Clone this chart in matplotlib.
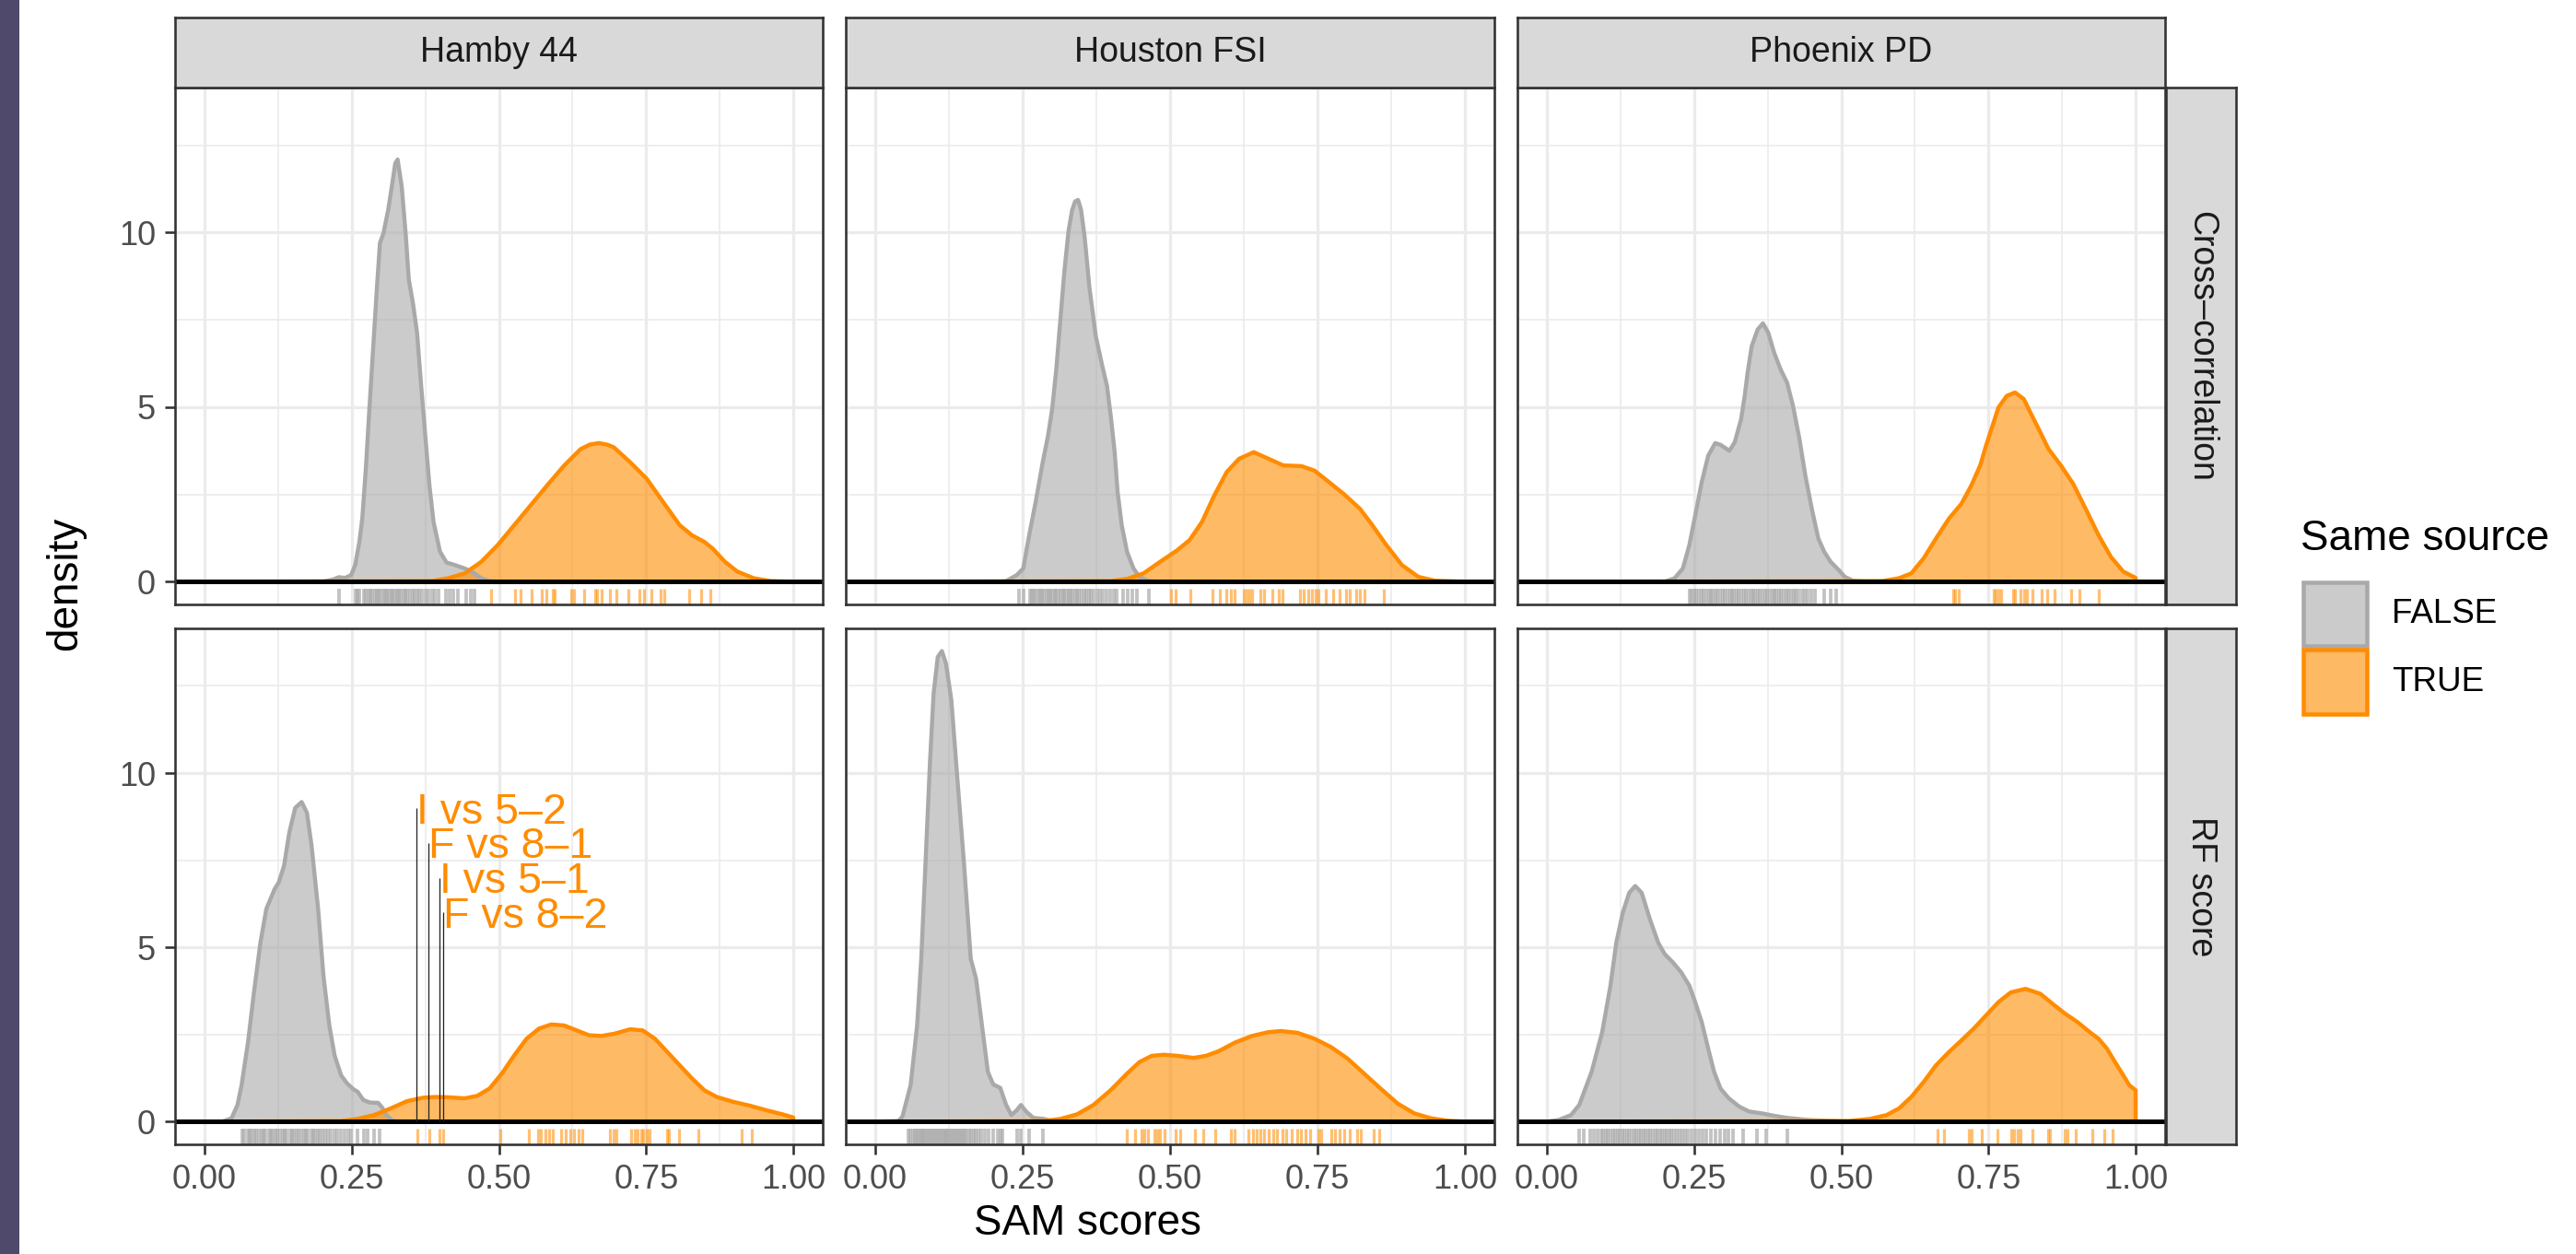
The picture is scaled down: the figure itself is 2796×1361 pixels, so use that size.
import matplotlib
matplotlib.use('Agg')
import matplotlib.pyplot as plt
from matplotlib.patches import Rectangle
import numpy as np

plt.rcParams['font.family'] = ['Liberation Sans', 'DejaVu Sans']

# ---------------- data ----------------
labs = ["Hamby 44", "Houston FSI", "Phoenix PD"]
scores = ["Cross\u2013correlation", "RF score"]
legend_labels = ["FALSE", "TRUE"]
x_ticks = [0.0, 0.25, 0.5, 0.75, 1.0]
x_tick_labels = ["0.00", "0.25", "0.50", "0.75", "1.00"]
y_ticks = [0, 5, 10]

# density curves: Hamby 44 / Cross-correlation
hamby_cc_false_x = [0.0, 0.200, 0.218, 0.228, 0.239, 0.249, 0.256, 0.263, 0.268, 0.274, 0.279, 0.286, 0.293, 0.298, 0.304, 0.312, 0.319, 0.324, 0.328, 0.335, 0.342, 0.347, 0.354, 0.361, 0.368, 0.375, 0.382, 0.389, 0.400, 0.411, 0.425, 0.442, 0.456, 0.470, 0.484, 0.500, 1.0]
hamby_cc_false_y = [0.0, 0.0, 0.06, 0.13, 0.11, 0.19, 0.48, 1.14, 1.81, 3.23, 4.66, 6.56, 8.46, 9.70, 9.98, 10.65, 11.41, 11.98, 12.09, 11.31, 9.89, 8.65, 7.98, 7.13, 5.61, 4.18, 2.76, 1.71, 0.86, 0.55, 0.48, 0.38, 0.27, 0.10, 0.02, 0.0, 0.0]
hamby_cc_true_x = [0.0, 0.386, 0.414, 0.442, 0.470, 0.498, 0.526, 0.554, 0.582, 0.611, 0.639, 0.655, 0.670, 0.685, 0.695, 0.723, 0.751, 0.779, 0.807, 0.828, 0.849, 0.863, 0.884, 0.905, 0.933, 0.961, 1.0]
hamby_cc_true_y = [0.0, 0.02, 0.10, 0.24, 0.57, 1.05, 1.62, 2.19, 2.76, 3.33, 3.80, 3.93, 3.97, 3.92, 3.85, 3.42, 2.95, 2.28, 1.62, 1.33, 1.14, 0.95, 0.57, 0.29, 0.10, 0.02, 0.0]

# Houston FSI / Cross-correlation
houston_cc_false_x = [0.0, 0.210, 0.222, 0.240, 0.251, 0.261, 0.272, 0.284, 0.293, 0.300, 0.307, 0.314, 0.321, 0.328, 0.334, 0.339, 0.344, 0.349, 0.355, 0.363, 0.374, 0.385, 0.393, 0.400, 0.406, 0.411, 0.418, 0.427, 0.438, 0.448, 0.462, 0.480, 1.0]
houston_cc_false_y = [0.0, 0.0, 0.02, 0.19, 0.38, 1.33, 2.28, 3.42, 4.18, 4.94, 6.08, 7.51, 8.94, 10.07, 10.65, 10.89, 10.93, 10.65, 9.89, 8.46, 7.03, 6.18, 5.61, 4.66, 3.71, 2.57, 1.62, 0.86, 0.38, 0.14, 0.03, 0.0, 0.0]
houston_cc_true_x = [0.0, 0.399, 0.427, 0.455, 0.483, 0.512, 0.533, 0.554, 0.575, 0.596, 0.617, 0.642, 0.667, 0.692, 0.723, 0.745, 0.766, 0.794, 0.822, 0.843, 0.865, 0.893, 0.921, 0.949, 1.0]
houston_cc_true_y = [0.0, 0.02, 0.08, 0.24, 0.57, 0.90, 1.19, 1.71, 2.47, 3.14, 3.52, 3.71, 3.52, 3.33, 3.31, 3.18, 2.90, 2.52, 2.09, 1.62, 1.09, 0.48, 0.14, 0.03, 0.0]

# Phoenix PD / Cross-correlation
phoenix_cc_false_x = [0.0, 0.200, 0.217, 0.231, 0.242, 0.252, 0.263, 0.274, 0.286, 0.295, 0.310, 0.319, 0.330, 0.336, 0.341, 0.348, 0.358, 0.367, 0.376, 0.386, 0.397, 0.408, 0.418, 0.429, 0.439, 0.450, 0.461, 0.471, 0.482, 0.496, 0.506, 0.520, 0.540, 1.0]
phoenix_cc_false_y = [0.0, 0.0, 0.10, 0.38, 1.05, 1.90, 2.85, 3.61, 3.97, 3.92, 3.75, 3.99, 4.66, 5.32, 5.99, 6.75, 7.22, 7.40, 7.13, 6.56, 6.08, 5.70, 5.04, 4.09, 3.04, 2.09, 1.24, 0.86, 0.57, 0.33, 0.14, 0.03, 0.0, 0.0]
phoenix_cc_true_x = [0.0, 0.570, 0.598, 0.619, 0.640, 0.661, 0.683, 0.704, 0.721, 0.736, 0.746, 0.757, 0.767, 0.781, 0.795, 0.810, 0.824, 0.838, 0.852, 0.873, 0.894, 0.915, 0.937, 0.958, 0.979, 1.0]
phoenix_cc_true_y = [0.0, 0.02, 0.10, 0.24, 0.67, 1.24, 1.81, 2.23, 2.76, 3.33, 3.90, 4.47, 4.99, 5.32, 5.42, 5.23, 4.75, 4.28, 3.80, 3.33, 2.80, 2.09, 1.33, 0.71, 0.29, 0.11]

# Hamby 44 / RF score
hamby_rf_false_x = [0.0, 0.030, 0.046, 0.056, 0.063, 0.074, 0.084, 0.095, 0.105, 0.119, 0.126, 0.135, 0.144, 0.154, 0.165, 0.174, 0.182, 0.193, 0.202, 0.212, 0.221, 0.232, 0.242, 0.253, 0.260, 0.270, 0.281, 0.295, 0.302, 0.309, 0.319, 0.335, 1.0]
hamby_rf_false_y = [0.0, 0.0, 0.10, 0.48, 1.05, 2.29, 3.71, 5.14, 6.10, 6.67, 6.86, 7.33, 8.29, 9.00, 9.17, 8.86, 7.90, 6.10, 4.19, 2.76, 1.90, 1.33, 1.10, 0.93, 0.86, 0.62, 0.55, 0.54, 0.40, 0.19, 0.03, 0.0, 0.0]
hamby_rf_true_x = [0.0, 0.232, 0.260, 0.288, 0.316, 0.344, 0.372, 0.393, 0.414, 0.442, 0.463, 0.484, 0.505, 0.526, 0.547, 0.568, 0.589, 0.611, 0.632, 0.653, 0.674, 0.695, 0.723, 0.744, 0.765, 0.786, 0.807, 0.828, 0.849, 0.870, 0.898, 0.926, 0.954, 0.982, 1.0]
hamby_rf_true_y = [0.0, 0.02, 0.08, 0.19, 0.38, 0.59, 0.69, 0.71, 0.70, 0.67, 0.74, 0.95, 1.38, 1.90, 2.38, 2.67, 2.79, 2.76, 2.62, 2.48, 2.46, 2.52, 2.65, 2.62, 2.38, 2.00, 1.62, 1.24, 0.90, 0.71, 0.57, 0.46, 0.33, 0.21, 0.12]

# Houston FSI / RF score
houston_rf_false_x = [0.0, 0.039, 0.046, 0.060, 0.071, 0.078, 0.083, 0.088, 0.093, 0.099, 0.106, 0.113, 0.120, 0.129, 0.139, 0.150, 0.162, 0.171, 0.181, 0.191, 0.200, 0.212, 0.222, 0.231, 0.240, 0.247, 0.256, 0.268, 0.286, 0.300, 0.320, 1.0]
houston_rf_false_y = [0.0, 0.02, 0.14, 1.05, 2.76, 4.67, 6.57, 8.48, 10.38, 12.29, 13.33, 13.50, 13.14, 12.10, 9.90, 7.52, 4.67, 4.10, 2.76, 1.43, 1.07, 0.97, 0.48, 0.19, 0.33, 0.48, 0.29, 0.11, 0.08, 0.02, 0.0, 0.0]
houston_rf_true_x = [0.0, 0.286, 0.314, 0.342, 0.370, 0.399, 0.427, 0.448, 0.469, 0.490, 0.512, 0.540, 0.561, 0.582, 0.610, 0.639, 0.667, 0.688, 0.716, 0.745, 0.773, 0.801, 0.829, 0.857, 0.886, 0.914, 0.942, 0.970, 1.0]
houston_rf_true_y = [0.0, 0.02, 0.08, 0.21, 0.48, 0.90, 1.38, 1.71, 1.89, 1.92, 1.89, 1.83, 1.89, 2.02, 2.27, 2.46, 2.57, 2.60, 2.55, 2.38, 2.14, 1.81, 1.38, 0.95, 0.52, 0.24, 0.10, 0.03, 0.0]

# Phoenix PD / RF score
phoenix_rf_false_x = [0.0, 0.020, 0.041, 0.055, 0.076, 0.094, 0.108, 0.118, 0.129, 0.140, 0.150, 0.161, 0.175, 0.189, 0.200, 0.214, 0.228, 0.242, 0.252, 0.263, 0.274, 0.284, 0.295, 0.309, 0.327, 0.344, 0.365, 0.386, 0.408, 0.443, 0.485, 0.513, 1.0]
phoenix_rf_false_y = [0.0, 0.05, 0.19, 0.48, 1.43, 2.57, 3.90, 5.14, 6.00, 6.57, 6.76, 6.57, 5.81, 5.14, 4.81, 4.57, 4.29, 3.90, 3.43, 2.86, 2.10, 1.43, 0.95, 0.67, 0.43, 0.29, 0.24, 0.17, 0.11, 0.05, 0.02, 0.0, 0.0]
phoenix_rf_true_x = [0.0, 0.513, 0.549, 0.577, 0.598, 0.619, 0.640, 0.661, 0.683, 0.704, 0.725, 0.746, 0.767, 0.788, 0.813, 0.838, 0.859, 0.880, 0.901, 0.922, 0.937, 0.951, 0.965, 0.979, 0.989, 1.0]
phoenix_rf_true_y = [0.0, 0.02, 0.08, 0.19, 0.38, 0.71, 1.14, 1.62, 2.00, 2.33, 2.67, 3.05, 3.43, 3.71, 3.81, 3.67, 3.38, 3.10, 2.86, 2.57, 2.38, 2.10, 1.71, 1.33, 1.05, 0.90]

# rug values
hamby_cc_false_rug = [0.228, 0.256, 0.260, 0.263, 0.270, 0.274, 0.278, 0.281, 0.285, 0.289, 0.292, 0.296, 0.299, 0.303, 0.306, 0.310, 0.313, 0.317, 0.320, 0.324, 0.327, 0.331, 0.334, 0.338, 0.341, 0.345, 0.349, 0.353, 0.357, 0.361, 0.365, 0.370, 0.375, 0.380, 0.386, 0.392, 0.397, 0.410, 0.417, 0.423, 0.430, 0.445, 0.452, 0.458]
hamby_cc_true_rug = [0.486, 0.528, 0.537, 0.555, 0.572, 0.581, 0.592, 0.595, 0.623, 0.628, 0.644, 0.664, 0.667, 0.675, 0.688, 0.700, 0.720, 0.739, 0.747, 0.759, 0.775, 0.781, 0.823, 0.844, 0.859]
houston_cc_false_rug = [0.244, 0.251, 0.262, 0.265, 0.269, 0.272, 0.276, 0.279, 0.283, 0.286, 0.290, 0.293, 0.297, 0.300, 0.304, 0.307, 0.311, 0.314, 0.318, 0.321, 0.325, 0.328, 0.332, 0.335, 0.339, 0.342, 0.346, 0.350, 0.354, 0.358, 0.362, 0.366, 0.371, 0.376, 0.381, 0.386, 0.392, 0.398, 0.404, 0.410, 0.420, 0.428, 0.436, 0.444, 0.464]
houston_cc_true_rug = [0.501, 0.509, 0.535, 0.572, 0.584, 0.595, 0.603, 0.609, 0.625, 0.630, 0.635, 0.639, 0.653, 0.660, 0.674, 0.685, 0.690, 0.720, 0.727, 0.734, 0.741, 0.747, 0.752, 0.764, 0.776, 0.787, 0.798, 0.805, 0.815, 0.822, 0.829, 0.863]
phoenix_cc_false_rug = [0.242, 0.246, 0.251, 0.254, 0.258, 0.263, 0.266, 0.270, 0.275, 0.278, 0.282, 0.287, 0.290, 0.294, 0.299, 0.302, 0.306, 0.311, 0.314, 0.318, 0.323, 0.326, 0.330, 0.335, 0.338, 0.342, 0.347, 0.350, 0.354, 0.359, 0.362, 0.366, 0.371, 0.374, 0.378, 0.383, 0.386, 0.390, 0.395, 0.398, 0.402, 0.407, 0.410, 0.414, 0.419, 0.423, 0.428, 0.434, 0.438, 0.443, 0.449, 0.455, 0.471, 0.482, 0.492]
phoenix_cc_true_rug = [0.690, 0.693, 0.699, 0.759, 0.762, 0.767, 0.771, 0.792, 0.795, 0.805, 0.810, 0.815, 0.824, 0.841, 0.849, 0.862, 0.891, 0.905, 0.937]
hamby_rf_false_rug = [0.064, 0.068, 0.073, 0.076, 0.080, 0.085, 0.088, 0.092, 0.097, 0.100, 0.104, 0.109, 0.112, 0.116, 0.121, 0.124, 0.128, 0.133, 0.136, 0.140, 0.145, 0.148, 0.152, 0.157, 0.160, 0.164, 0.169, 0.172, 0.176, 0.181, 0.184, 0.188, 0.193, 0.196, 0.200, 0.205, 0.210, 0.215, 0.220, 0.226, 0.232, 0.238, 0.244, 0.249, 0.260, 0.270, 0.277, 0.288, 0.297]
hamby_rf_true_rug = [0.361, 0.382, 0.399, 0.406, 0.502, 0.551, 0.566, 0.571, 0.579, 0.585, 0.591, 0.606, 0.614, 0.621, 0.628, 0.635, 0.641, 0.688, 0.695, 0.700, 0.724, 0.731, 0.736, 0.741, 0.745, 0.751, 0.756, 0.785, 0.789, 0.806, 0.839, 0.912, 0.930]
houston_rf_false_rug = [0.056, 0.060, 0.064, 0.067, 0.070, 0.073, 0.076, 0.079, 0.082, 0.085, 0.088, 0.091, 0.094, 0.097, 0.100, 0.103, 0.106, 0.109, 0.112, 0.115, 0.118, 0.121, 0.124, 0.127, 0.130, 0.133, 0.136, 0.139, 0.142, 0.145, 0.148, 0.151, 0.155, 0.159, 0.163, 0.167, 0.171, 0.175, 0.180, 0.186, 0.192, 0.200, 0.208, 0.212, 0.215, 0.240, 0.247, 0.261, 0.284]
houston_rf_true_rug = [0.427, 0.440, 0.452, 0.457, 0.462, 0.473, 0.478, 0.483, 0.491, 0.510, 0.517, 0.542, 0.557, 0.577, 0.603, 0.609, 0.633, 0.641, 0.647, 0.653, 0.660, 0.667, 0.675, 0.681, 0.690, 0.697, 0.706, 0.715, 0.722, 0.730, 0.738, 0.752, 0.757, 0.773, 0.780, 0.788, 0.796, 0.805, 0.817, 0.824, 0.845, 0.854]
phoenix_rf_false_rug = [0.055, 0.062, 0.073, 0.080, 0.086, 0.092, 0.096, 0.100, 0.104, 0.108, 0.112, 0.116, 0.120, 0.124, 0.128, 0.132, 0.136, 0.140, 0.144, 0.148, 0.152, 0.156, 0.160, 0.164, 0.168, 0.172, 0.176, 0.180, 0.184, 0.188, 0.192, 0.196, 0.200, 0.204, 0.208, 0.212, 0.216, 0.220, 0.225, 0.230, 0.235, 0.240, 0.246, 0.252, 0.258, 0.264, 0.270, 0.278, 0.286, 0.294, 0.302, 0.309, 0.316, 0.334, 0.357, 0.372, 0.408]
phoenix_rf_true_rug = [0.663, 0.674, 0.717, 0.722, 0.739, 0.766, 0.788, 0.794, 0.799, 0.804, 0.824, 0.851, 0.855, 0.879, 0.884, 0.898, 0.926, 0.947, 0.961]

# labelled land-to-land comparisons (Hamby 44, RF score)
note_labels = ["I vs 5\u20132", "F vs 8\u20131", "I vs 5\u20131", "F vs 8\u20132"]
note_x = [0.360, 0.381, 0.399, 0.406]
note_y = [9, 8, 7, 6]

# ---------------- figure ----------------
W, H = 2796, 1361
DPI = 100
fig = plt.figure(figsize=(W / DPI, H / DPI), dpi=DPI)


def px(v):
    return v * 72.0 / DPI


def fbox(x0, y0, x1, y1):
    return [x0 / W, 1 - y1 / H, (x1 - x0) / W, (y1 - y0) / H]


FALSE_COL = '#a9a9a9'
TRUE_COL = '#ff8c00'
FRAME = '#333333'

fig.patches.append(Rectangle((0, 0), 21 / W, 1, transform=fig.transFigure,
                             facecolor='#4f4a6b', edgecolor='none'))

col_px = [(190, 893), (918, 1622), (1647, 2350)]
row_px = [(95, 656), (682, 1242)]

curves = {
    (0, 0): (hamby_cc_false_x, hamby_cc_false_y, hamby_cc_true_x, hamby_cc_true_y, hamby_cc_false_rug, hamby_cc_true_rug),
    (0, 1): (houston_cc_false_x, houston_cc_false_y, houston_cc_true_x, houston_cc_true_y, houston_cc_false_rug, houston_cc_true_rug),
    (0, 2): (phoenix_cc_false_x, phoenix_cc_false_y, phoenix_cc_true_x, phoenix_cc_true_y, phoenix_cc_false_rug, phoenix_cc_true_rug),
    (1, 0): (hamby_rf_false_x, hamby_rf_false_y, hamby_rf_true_x, hamby_rf_true_y, hamby_rf_false_rug, hamby_rf_true_rug),
    (1, 1): (houston_rf_false_x, houston_rf_false_y, houston_rf_true_x, houston_rf_true_y, houston_rf_false_rug, houston_rf_true_rug),
    (1, 2): (phoenix_rf_false_x, phoenix_rf_false_y, phoenix_rf_true_x, phoenix_rf_true_y, phoenix_rf_false_rug, phoenix_rf_true_rug),
}

TICK_FS = 26
for r, (y0, y1) in enumerate(row_px):
    for c, (x0, x1) in enumerate(col_px):
        ax = fig.add_axes(fbox(x0, y0, x1, y1))
        ax.set_xlim(-0.05, 1.05)
        ax.set_ylim(-0.65, 14.15)
        ax.set_xticks(x_ticks)
        ax.set_xticks([0.125, 0.375, 0.625, 0.875], minor=True)
        ax.set_yticks(y_ticks)
        ax.set_yticks([2.5, 7.5, 12.5], minor=True)
        ax.set_axisbelow(True)
        ax.grid(which='major', color='#ebebeb', lw=px(3.2))
        ax.grid(which='minor', color='#ebebeb', lw=px(1.6))
        for s in ax.spines.values():
            s.set_color(FRAME)
            s.set_linewidth(px(2.6))
            s.set_zorder(10)
        ax.tick_params(which='minor', length=0)
        ax.tick_params(which='major', length=px(11), width=px(2.6), color=FRAME,
                       labelsize=TICK_FS, labelcolor='#4d4d4d', pad=px(10))
        if r == 1:
            ax.set_xticklabels(x_tick_labels)
        else:
            ax.tick_params(axis='x', length=0, labelbottom=False)
        if c == 0:
            ax.set_yticklabels([str(v) for v in y_ticks])
        else:
            ax.tick_params(axis='y', length=0, labelleft=False)

        fx, fy, tx, ty, frug, trug = curves[(r, c)]
        for xs, ys, col in ((fx, fy, FALSE_COL), (tx, ty, TRUE_COL)):
            xs = np.asarray(xs)
            ys = np.asarray(ys)
            ax.fill_between(xs, ys, 0, facecolor=col, alpha=0.6, lw=0, zorder=2)
            ax.plot(np.r_[xs, xs[-1], xs[0]], np.r_[ys, 0, 0], color=col,
                    lw=px(4.4), solid_joinstyle='round', zorder=3)
        trans = ax.get_xaxis_transform()
        ax.vlines(frug, 0, 0.03, transform=trans, colors=FALSE_COL, alpha=0.7,
                  lw=px(3.8), zorder=3)
        ax.vlines(trug, 0, 0.03, transform=trans, colors=TRUE_COL, alpha=0.55,
                  lw=px(3.2), zorder=3)
        ax.axhline(0, color='black', lw=px(5), zorder=4)

        if (r, c) == (1, 0):
            ax.vlines(note_x, 0, note_y, colors='#222222', lw=px(1.3), zorder=5)
            for lx, ly, lt in zip(note_x, note_y, note_labels):
                ax.text(lx, ly - 0.44, lt, color=TRUE_COL, fontsize=33.5,
                        ha='left', va='baseline', zorder=6)

        # column strips
        if r == 0:
            sax = fig.add_axes(fbox(x0, 19, x1, 95))
            sax.set_facecolor('#d9d9d9')
            sax.set_xticks([])
            sax.set_yticks([])
            for s in sax.spines.values():
                s.set_color(FRAME)
                s.set_linewidth(px(2.6))
            sax.text(0.5, 0.5, labs[c], transform=sax.transAxes, ha='center',
                     va='center', fontsize=27, color='#1a1a1a')
    # row strips
    rax = fig.add_axes(fbox(2351, y0, 2427, y1))
    rax.set_facecolor('#d9d9d9')
    rax.set_xticks([])
    rax.set_yticks([])
    for s in rax.spines.values():
        s.set_color(FRAME)
        s.set_linewidth(px(2.6))
    rax.text(0.5, 0.5, scores[r], transform=rax.transAxes, ha='center',
             va='center', rotation=-90, fontsize=27, color='#1a1a1a')

# axis titles
fig.text(1180 / W, 1 - 1328 / H, "SAM scores", ha='center', va='center',
         fontsize=33, color='black')
fig.text(71 / W, 1 - 633 / H, "density", ha='center', va='center',
         rotation=90, fontsize=33, color='black')

# legend
fig.text(2497 / W, 1 - 585 / H, "Same source", ha='left', va='center',
         fontsize=33, color='black')
key_y = [(632, 701), (705, 775)]
key_face = ['#cbcbcb', '#fdb963']
key_edge = [FALSE_COL, TRUE_COL]
for (ky0, ky1), fc, ec, lab in zip(key_y, key_face, key_edge, legend_labels):
    b = fbox(2500, ky0, 2569, ky1)
    fig.patches.append(Rectangle((b[0], b[1]), b[2], b[3], transform=fig.transFigure,
                                 facecolor=fc, edgecolor=ec, lw=px(4.5)))
    fig.text(2596 / W, 1 - ((ky0 + ky1) / 2) / H, lab, ha='left', va='center',
             fontsize=26.5, color='black')

fig.savefig('out.png', dpi=DPI, facecolor='white')
